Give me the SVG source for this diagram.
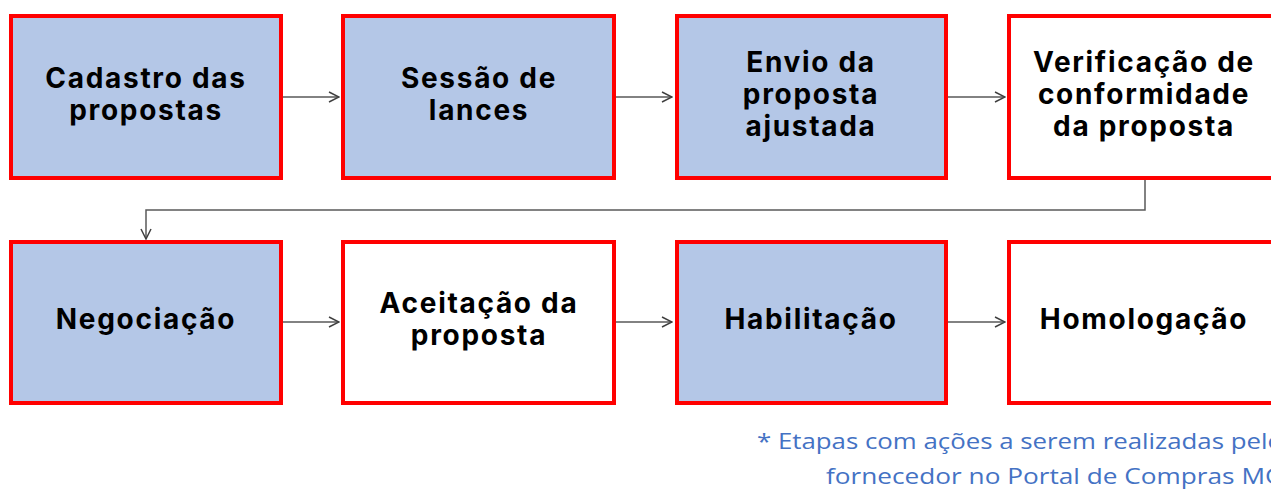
<svg xmlns="http://www.w3.org/2000/svg" width="1271" height="489" viewBox="0 0 1271 489">
<style>
.box{stroke:#FF0000;stroke-width:4}
.blue{fill:#B4C7E7}
.white{fill:#FFFFFF}
.lbl{font-family:Inter,"Open Sans","Liberation Sans",sans-serif;font-weight:700;font-size:28px;fill:#000;text-anchor:middle;letter-spacing:1.7px}
.con{fill:none;stroke:#595959;stroke-width:1.5}
.note{font-family:"Open Sans","Liberation Sans",sans-serif;font-size:22.5px;fill:#4472C4}
</style>
<defs>
<marker id="arr" viewBox="0 0 12 12" refX="11" refY="6" markerWidth="12" markerHeight="12" markerUnits="userSpaceOnUse" orient="auto">
<path d="M1,1 L11,6 L1,11" fill="none" stroke="#404040" stroke-width="1.5"/>
</marker>
</defs>
<rect width="1271" height="489" fill="#FFFFFF"/>
<g id="connectors">
<line class="con" x1="283" y1="97" x2="339" y2="97" marker-end="url(#arr)"/>
<line class="con" x1="616" y1="97" x2="672" y2="97" marker-end="url(#arr)"/>
<line class="con" x1="948" y1="97" x2="1005" y2="97" marker-end="url(#arr)"/>
<polyline class="con" points="1145,180 1145,210 146,210 146,239" marker-end="url(#arr)"/>
<line class="con" x1="283" y1="322" x2="339" y2="322" marker-end="url(#arr)"/>
<line class="con" x1="616" y1="322" x2="672" y2="322" marker-end="url(#arr)"/>
<line class="con" x1="948" y1="322" x2="1005" y2="322" marker-end="url(#arr)"/>
</g>
<g id="n1">
<rect class="box blue" x="11" y="16" width="270" height="162"/>
<text class="lbl" x="146" y="88">Cadastro das</text>
<text class="lbl" x="146" y="120">propostas</text>
</g>
<g id="n2">
<rect class="box blue" x="343" y="16" width="271" height="162"/>
<text class="lbl" x="479" y="88">Sessão de</text>
<text class="lbl" x="479" y="120">lances</text>
</g>
<g id="n3">
<rect class="box blue" x="677" y="16" width="269" height="162"/>
<text class="lbl" x="811" y="72">Envio da</text>
<text class="lbl" x="811" y="104">proposta</text>
<text class="lbl" x="811" y="136">ajustada</text>
</g>
<g id="n4">
<rect class="box white" x="1009" y="16" width="270" height="162"/>
<text class="lbl" x="1144" y="72">Verificação de</text>
<text class="lbl" x="1144" y="104">conformidade</text>
<text class="lbl" x="1144" y="136">da proposta</text>
</g>
<g id="n5">
<rect class="box blue" x="11" y="242" width="270" height="161"/>
<text class="lbl" x="146" y="329">Negociação</text>
</g>
<g id="n6">
<rect class="box white" x="343" y="242" width="271" height="161"/>
<text class="lbl" x="479" y="313">Aceitação da</text>
<text class="lbl" x="479" y="345">proposta</text>
</g>
<g id="n7">
<rect class="box blue" x="677" y="242" width="269" height="161"/>
<text class="lbl" x="811" y="329">Habilitação</text>
</g>
<g id="n8">
<rect class="box white" x="1009" y="242" width="270" height="161"/>
<text class="lbl" x="1144" y="329">Homologação</text>
</g>
<g id="note">
<text class="note" x="757" y="449" textLength="526" lengthAdjust="spacingAndGlyphs">* Etapas com ações a serem realizadas pelo</text>
<text class="note" x="826" y="484" textLength="458" lengthAdjust="spacingAndGlyphs">fornecedor no Portal de Compras MG</text>
</g>
</svg>
